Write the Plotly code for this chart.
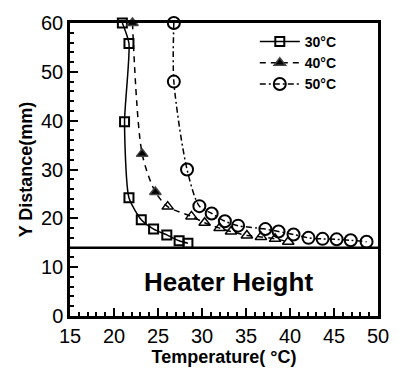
import plotly.graph_objects as go

# 30 °C series
t30 = [20.95, 21.7, 21.2, 21.7, 23.1, 24.5, 26.0, 27.4, 28.4]
y30 = [60.0, 55.8, 39.8, 24.2, 19.7, 17.8, 16.6, 15.4, 14.9]

# 40 °C series
t40 = [22.1, 23.2, 24.7, 26.1, 28.8, 30.3, 32.0, 33.3, 35.1, 36.7, 38.3, 39.8]
y40 = [60.0, 33.2, 25.4, 22.4, 20.4, 19.1, 18.0, 17.3, 16.5, 16.2, 15.8, 15.2]

# 50 °C series
t50 = [26.8, 26.8, 28.3, 29.7, 31.1, 32.6, 34.1, 37.2, 38.7, 40.4, 42.1, 43.7, 45.3, 46.9, 48.7]
y50 = [60.0, 48.0, 30.0, 22.5, 21.0, 19.4, 18.5, 17.8, 17.3, 16.7, 16.0, 15.8, 15.7, 15.5, 15.2]

heater_height = 14
x_range = [15, 50]
y_range = [0, 60]

FONT = "Liberation Sans, Arial, sans-serif"

sym40 = ["triangle-up"] * 3 + ["triangle-up-open"] * (len(t40) - 3)

fig = go.Figure()
fig.add_trace(go.Scatter(
    x=t30, y=y30, name="<b>30°C</b>", mode="lines+markers",
    line=dict(color="black", width=1.5, shape="spline", smoothing=0.6),
    marker=dict(symbol="square-open", size=9, color="black", line=dict(width=2)),
    cliponaxis=False))
fig.add_trace(go.Scatter(
    x=t40, y=y40, name="<b>40°C</b>", mode="lines+markers",
    line=dict(color="black", width=1.5, dash="6px,5px", shape="spline", smoothing=0.8),
    marker=dict(symbol=sym40, size=10, color="black", line=dict(width=1.5)),
    cliponaxis=False))
fig.add_trace(go.Scatter(
    x=t50, y=y50, name="<b>50°C</b>", mode="lines+markers",
    line=dict(color="black", width=1.5, dash="6px,3px,2px,3px", shape="spline", smoothing=0.8),
    marker=dict(symbol="circle-open", size=12, color="black", line=dict(width=2)),
    cliponaxis=False))

fig.add_shape(type="line", xref="x", yref="y", x0=x_range[0], x1=x_range[1],
              y0=heater_height, y1=heater_height, line=dict(color="black", width=2.5))
fig.add_annotation(x=33.0, y=7.0, xref="x", yref="y", text="<b>Heater Height</b>",
                   showarrow=False, font=dict(family=FONT, size=26, color="black"))

axis_common = dict(showgrid=False, zeroline=False, showline=True, linecolor="black",
                   linewidth=2.5, mirror=True, ticks="inside", ticklen=8, tickwidth=2,
                   tickcolor="black", tickfont=dict(family=FONT, size=20, color="black"))

fig.update_xaxes(range=x_range, dtick=5, tick0=15,
                 minor=dict(ticks="inside", ticklen=4, tickwidth=1.5, dtick=1, tickcolor="black"),
                 title=dict(text="<b>Temperature( °C)</b>", font=dict(family=FONT, size=18, color="black"),
                            standoff=0),
                 **axis_common)
fig.update_yaxes(range=y_range, dtick=10,
                 minor=dict(ticks="inside", ticklen=4, tickwidth=1.5, dtick=2, tickcolor="black"),
                 title=dict(text="<b>Y Distance(mm)</b>", font=dict(family=FONT, size=18, color="black"),
                            standoff=4),
                 **axis_common)

fig.update_layout(
    width=401, height=371,
    margin=dict(l=70, r=19, t=15, b=48),
    plot_bgcolor="white", paper_bgcolor="white",
    showlegend=True,
    legend=dict(x=0.6, y=0.99, xanchor="left", yanchor="top",
                bgcolor="rgba(0,0,0,0)", font=dict(family=FONT, size=14, color="black"),
                tracegroupgap=0, itemwidth=40),
)

fig.write_html("out.html")
